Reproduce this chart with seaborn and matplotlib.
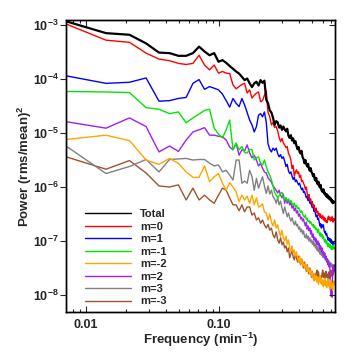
"""
Power spectra of the azimuthal modes (total and m=-3..3)
"""

import matplotlib
matplotlib.use("Agg")
import matplotlib.pyplot as plt
from matplotlib.ticker import LogLocator, FixedLocator, FixedFormatter, NullFormatter, NullLocator
import seaborn as sns
import pandas as pd
import numpy as np

# frequency grid of the spectrum (min^-1), bins k = 1..104
df_bin = 0.00708
freq = np.arange(1, 105) * df_bin

# log10 of power, (rms/mean)^2
log_total = [
    -2.93, -3.15, -3.18, -3.34, -3.51, -3.52, -3.57, -3.57, -3.52, -3.40,
    -3.49, -3.56, -3.52, -3.68, -3.65, -3.70, -3.76, -3.81, -3.86, -3.90,
    -3.96, -4.02, -3.99, -4.08, -4.15, -4.08, -4.05, -4.12, -4.02, -4.07,
    -4.03, -4.38, -4.45, -4.58, -4.62, -4.72, -4.85, -4.78, -4.80, -4.90,
    -4.86, -4.94, -4.88, -4.93, -4.97, -4.92, -5.05, -5.09, -5.04, -5.14,
    -5.10, -5.19, -5.15, -5.24, -5.30, -5.26, -5.35, -5.38, -5.33, -5.45,
    -5.48, -5.56, -5.50, -5.58, -5.62, -5.57, -5.66, -5.70, -5.65, -5.72,
    -5.75, -5.80, -5.76, -5.86, -5.88, -5.83, -5.92, -5.95, -5.90, -5.98,
    -6.01, -5.96, -6.05, -6.08, -6.09, -6.04, -6.12, -6.10, -6.15, -6.13,
    -6.18, -6.14, -6.20, -6.17, -6.22, -6.19, -6.24, -6.21, -6.27, -6.24,
    -6.30, -6.26, -6.29, -6.28,
]
log_m0 = [
    -2.98, -3.28, -3.32, -3.52, -3.63, -3.66, -3.71, -3.73, -3.71, -3.56,
    -3.74, -3.83, -3.74, -3.89, -3.86, -3.89, -3.90, -4.11, -4.18, -4.14,
    -4.10, -4.08, -4.26, -4.20, -4.35, -4.30, -4.26, -4.24, -4.42, -4.40,
    -4.30, -4.22, -4.62, -4.70, -4.85, -4.80, -4.90, -4.88, -4.96, -5.08,
    -5.16, -5.10, -5.18, -5.22, -5.27, -5.25, -5.38, -5.42, -5.50, -5.66,
    -5.60, -5.80, -5.72, -5.68, -5.75, -5.72, -5.82, -5.78, -5.90, -5.88,
    -5.93, -5.97, -6.05, -6.00, -6.12, -6.19, -6.14, -6.25, -6.22, -6.30,
    -6.27, -6.37, -6.33, -6.40, -6.44, -6.39, -6.48, -6.45, -6.52, -6.49,
    -6.56, -6.50, -6.58, -6.57, -6.53, -6.61, -6.56, -6.63, -6.58, -6.65,
    -6.62, -6.66, -6.57, -6.54, -6.60, -6.56, -6.63, -6.58, -6.62, -6.55,
    -6.60, -6.65, -6.58, -6.62,
]
log_m1 = [
    -3.94, -4.08, -4.06, -3.98, -4.41, -4.40, -4.36, -4.34, -4.08, -4.01,
    -4.19, -4.14, -4.17, -4.20, -4.28, -4.40, -4.52, -4.36, -4.45, -4.51,
    -4.36, -4.48, -4.62, -4.76, -4.85, -4.98, -4.88, -4.67, -4.64, -4.70,
    -4.61, -4.80, -5.20, -5.30, -5.35, -5.28, -5.32, -5.28, -5.38, -5.44,
    -5.40, -5.47, -5.44, -5.52, -5.62, -5.58, -5.70, -5.75, -5.72, -5.80,
    -5.86, -5.82, -5.90, -5.87, -5.92, -5.96, -5.93, -6.00, -6.05, -6.02,
    -6.10, -6.08, -6.14, -6.20, -6.17, -6.25, -6.22, -6.30, -6.28, -6.34,
    -6.38, -6.36, -6.45, -6.42, -6.50, -6.55, -6.52, -6.60, -6.58, -6.65,
    -6.72, -6.68, -6.76, -6.70, -6.74, -6.70, -6.80, -6.85, -6.82, -6.89,
    -6.86, -6.92, -6.98, -6.94, -6.99, -6.95, -7.02, -6.97, -7.04, -7.00,
    -7.06, -7.02, -7.05, -7.04,
]
log_m_1 = [
    -4.23, -4.24, -4.25, -4.53, -4.56, -4.64, -4.61, -4.81, -4.72, -4.65,
    -4.58, -4.56, -4.91, -5.02, -5.09, -4.94, -4.76, -5.31, -5.19, -5.31,
    -5.25, -5.36, -5.37, -5.30, -5.31, -5.50, -5.46, -5.44, -5.56, -5.59,
    -5.50, -5.62, -5.72, -5.78, -5.87, -5.98, -6.10, -6.15, -6.20, -6.16,
    -6.12, -6.10, -6.18, -6.24, -6.20, -6.26, -6.22, -6.28, -6.25, -6.30,
    -6.34, -6.30, -6.37, -6.34, -6.40, -6.38, -6.43, -6.47, -6.44, -6.50,
    -6.54, -6.56, -6.52, -6.60, -6.58, -6.64, -6.62, -6.67, -6.64, -6.68,
    -6.72, -6.69, -6.75, -6.72, -6.78, -6.76, -6.80, -6.84, -6.78, -6.86,
    -6.90, -6.85, -6.92, -6.88, -6.95, -6.91, -6.98, -7.02, -6.97, -7.04,
    -7.00, -7.06, -7.10, -7.04, -7.08, -7.12, -7.06, -7.14, -7.10, -7.16,
    -7.12, -7.06, -7.15, -7.13,
]
log_m_2 = [
    -5.12, -5.04, -5.14, -5.50, -5.58, -5.47, -5.56, -5.72, -5.82, -5.82,
    -5.61, -5.90, -5.81, -5.75, -5.93, -6.06, -5.92, -6.00, -6.09, -6.27,
    -6.15, -6.24, -6.17, -6.30, -6.15, -6.33, -6.20, -6.37, -6.35, -6.31,
    -6.46, -6.48, -6.61, -6.50, -6.65, -6.72, -6.61, -6.76, -6.70, -6.83,
    -6.91, -6.80, -6.94, -7.00, -6.91, -7.06, -6.98, -7.13, -7.19, -7.09,
    -7.22, -7.17, -7.28, -7.20, -7.31, -7.39, -7.28, -7.43, -7.33, -7.46,
    -7.39, -7.50, -7.43, -7.54, -7.46, -7.57, -7.50, -7.61, -7.54, -7.65,
    -7.57, -7.69, -7.74, -7.61, -7.72, -7.65, -7.76, -7.67, -7.80, -7.70,
    -7.65, -7.78, -7.69, -7.81, -7.72, -7.85, -7.76, -7.69, -7.83, -7.74,
    -7.87, -7.78, -7.70, -7.83, -7.76, -7.89, -7.80, -7.72, -7.85, -7.78,
    -7.91, -7.81, -7.74, -7.80,
]
log_m2 = [
    -4.79, -4.91, -4.72, -4.88, -5.35, -5.24, -5.34, -5.13, -4.98, -4.94,
    -4.90, -5.04, -5.04, -5.06, -5.07, -5.13, -5.26, -5.31, -5.19, -5.41,
    -5.31, -5.33, -5.22, -5.37, -5.46, -5.41, -5.50, -5.61, -5.56, -5.65,
    -5.72, -5.74, -5.83, -5.87, -5.91, -5.98, -6.02, -6.06, -6.11, -6.06,
    -6.15, -6.20, -6.13, -6.30, -6.20, -6.30, -6.24, -6.33, -6.28, -6.39,
    -6.35, -6.44, -6.39, -6.48, -6.44, -6.54, -6.50, -6.59, -6.56, -6.63,
    -6.59, -6.67, -6.72, -6.65, -6.78, -6.72, -6.81, -6.76, -6.87, -6.81,
    -6.93, -6.87, -6.98, -6.93, -7.02, -6.96, -7.06, -7.00, -7.09, -7.04,
    -7.15, -7.09, -7.19, -7.13, -7.24, -7.19, -7.28, -7.22, -7.33, -7.28,
    -7.39, -7.33, -7.44, -7.39, -7.48, -7.43, -7.81, -8.02, -7.91, -8.04,
    -7.54, -7.46, -7.57, -7.44,
]
log_m3 = [
    -5.24, -5.75, -5.62, -5.49, -5.72, -5.49, -5.48, -5.47, -5.50, -5.49,
    -5.49, -5.56, -5.61, -5.59, -5.72, -5.69, -5.78, -5.87, -5.50, -5.50,
    -5.93, -5.89, -5.93, -5.69, -5.81, -6.06, -5.84, -6.02, -5.91, -5.81,
    -5.98, -6.12, -5.98, -6.13, -6.06, -6.18, -6.22, -6.30, -6.20, -6.33,
    -6.26, -6.39, -6.49, -6.37, -6.46, -6.55, -6.48, -6.57, -6.63, -6.57,
    -6.65, -6.70, -6.63, -6.72, -6.69, -6.78, -6.74, -6.83, -6.78, -6.87,
    -6.81, -6.91, -6.94, -6.87, -6.96, -6.91, -7.00, -6.94, -7.02, -6.98,
    -7.06, -7.00, -7.09, -7.04, -7.13, -7.07, -7.17, -7.11, -7.20, -7.15,
    -7.24, -7.19, -7.26, -7.22, -7.30, -7.24, -7.31, -7.28, -7.35, -7.30,
    -7.37, -7.33, -7.41, -7.35, -7.43, -7.39, -7.46, -7.41, -7.48, -7.43,
    -7.50, -7.44, -7.52, -7.46,
]
log_m_3 = [
    -5.44, -5.67, -5.51, -5.74, -5.98, -6.00, -5.96, -6.24, -6.02, -6.24,
    -6.15, -6.24, -6.30, -6.15, -6.02, -6.06, -6.20, -6.33, -6.33, -6.44,
    -6.33, -6.46, -6.37, -6.37, -6.52, -6.48, -6.61, -6.57, -6.67, -6.61,
    -6.70, -6.76, -6.69, -6.80, -6.76, -6.89, -6.94, -6.83, -6.98, -7.04,
    -6.94, -7.07, -7.02, -7.13, -7.09, -7.20, -7.13, -7.31, -7.24, -7.17,
    -7.30, -7.35, -7.24, -7.31, -7.39, -7.28, -7.37, -7.44, -7.33, -7.43,
    -7.50, -7.39, -7.48, -7.56, -7.44, -7.54, -7.61, -7.50, -7.59, -7.67,
    -7.56, -7.65, -7.72, -7.61, -7.69, -7.59, -7.54, -7.65, -7.57, -7.69,
    -7.74, -7.65, -7.70, -7.61, -7.54, -7.67, -7.59, -7.70, -7.63, -7.56,
    -7.67, -7.61, -7.70, -7.65, -7.57, -7.69, -7.61, -7.54, -7.65, -7.59,
    -7.52, -7.63, -7.56, -7.50,
]

labels = ["Total", "m=0", "m=1", "m=-1", "m=-2", "m=2", "m=3", "m=-3"]
series = [log_total, log_m0, log_m1, log_m_1, log_m_2, log_m2, log_m3, log_m_3]
colors = ["#000000", "#ff0000", "#0000ff", "#00e600", "#ffa500", "#a020f0", "#808080", "#a0522d"]
widths = [1.6, 1.0, 1.0, 1.0, 1.0, 1.0, 1.0, 1.0]

# long-form table for seaborn
data = pd.concat(
    [pd.DataFrame({"freq": freq, "power": 10.0 ** np.array(v), "mode": lab})
     for lab, v in zip(labels, series)],
    ignore_index=True,
)

sns.set_style("ticks")
plt.rcParams['font.family'] = ['Liberation Sans', 'DejaVu Sans']
plt.rcParams['font.weight'] = 'bold'
plt.rcParams['axes.labelweight'] = 'bold'
plt.rcParams['mathtext.fontset'] = 'custom'
plt.rcParams['mathtext.rm'] = 'Liberation Sans:bold'
plt.rcParams['mathtext.bf'] = 'Liberation Sans:bold'
plt.rcParams['mathtext.it'] = 'Liberation Sans:bold'
plt.rcParams['mathtext.default'] = 'bf'

fig = plt.figure(figsize=(3.54, 3.54), dpi=100)
ax = fig.add_axes([0.1864, 0.1195, 0.7591, 0.8240])

# order of drawing: low curves first, total on top
for lab, col, lw in reversed(list(zip(labels, colors, widths))):
    sns.lineplot(data=data[data["mode"] == lab], x="freq", y="power",
                 color=col, linewidth=lw, label=lab, ax=ax,
                 estimator=None, sort=True)

ax.set_xscale('log')
ax.set_yscale('log')
ax.set_xlim(freq[0], freq[-1] * 1.006)
ax.set_ylim(4.91e-9, 1.24e-3)

# x ticks
ax.xaxis.set_major_locator(FixedLocator([0.01, 0.1]))
ax.xaxis.set_major_formatter(FixedFormatter(["0.01", "0.10"]))
ax.xaxis.set_minor_locator(LogLocator(base=10, subs=np.arange(2, 10)))
ax.xaxis.set_minor_formatter(NullFormatter())
ax.tick_params(axis='x', which='both', direction='in', top=True, bottom=True,
               labelsize=9, pad=5, width=0.8)
ax.tick_params(axis='x', which='major', length=4.5)
ax.tick_params(axis='x', which='minor', length=2.5)

# y ticks: decades only, outward on the left
ydec = [1e-8, 1e-7, 1e-6, 1e-5, 1e-4, 1e-3]
ax.yaxis.set_major_locator(FixedLocator(ydec))
ax.yaxis.set_major_formatter(FixedFormatter([r"$10^{%d}$" % e for e in range(-8, -2)]))
ax.yaxis.set_minor_locator(NullLocator())
ax.tick_params(axis='y', which='major', direction='out', left=True, right=False,
               length=4, width=0.8, labelsize=9, pad=1)

# right side ticks point inward
ax2 = ax.twinx()
ax2.set_yscale('log')
ax2.set_ylim(ax.get_ylim())
ax2.yaxis.set_major_locator(FixedLocator(ydec))
ax2.yaxis.set_minor_locator(NullLocator())
ax2.tick_params(axis='y', which='major', direction='in', length=4, width=0.8,
                labelright=False)

for a in (ax, ax2):
    for s in a.spines.values():
        s.set_visible(True)
        s.set_color('black')
        s.set_linewidth(1.0)

ax.set_xlabel(r"Frequency (min$^{-1}$)", fontsize=9.5, fontweight='bold', labelpad=0)
ax.set_ylabel(r"Power (rms/mean)$^{2}$", fontsize=9.5, fontweight='bold')
ax.yaxis.set_label_coords(-0.12, 0.5)

# legend in the lower left, same order as the original
handles, labs = ax.get_legend_handles_labels()
order = [labs.index(l) for l in labels]
leg = ax.legend([handles[i] for i in order], labels, loc='lower left',
                bbox_to_anchor=(0.045, -0.005), frameon=False, fontsize=8,
                handlelength=4.2, handletextpad=0.8, labelspacing=0.22,
                borderaxespad=0.2)
for ln in leg.get_lines():
    ln.set_linewidth(1.0)
for t in leg.get_texts():
    t.set_fontweight('bold')

fig.savefig("out.png", dpi=100)
